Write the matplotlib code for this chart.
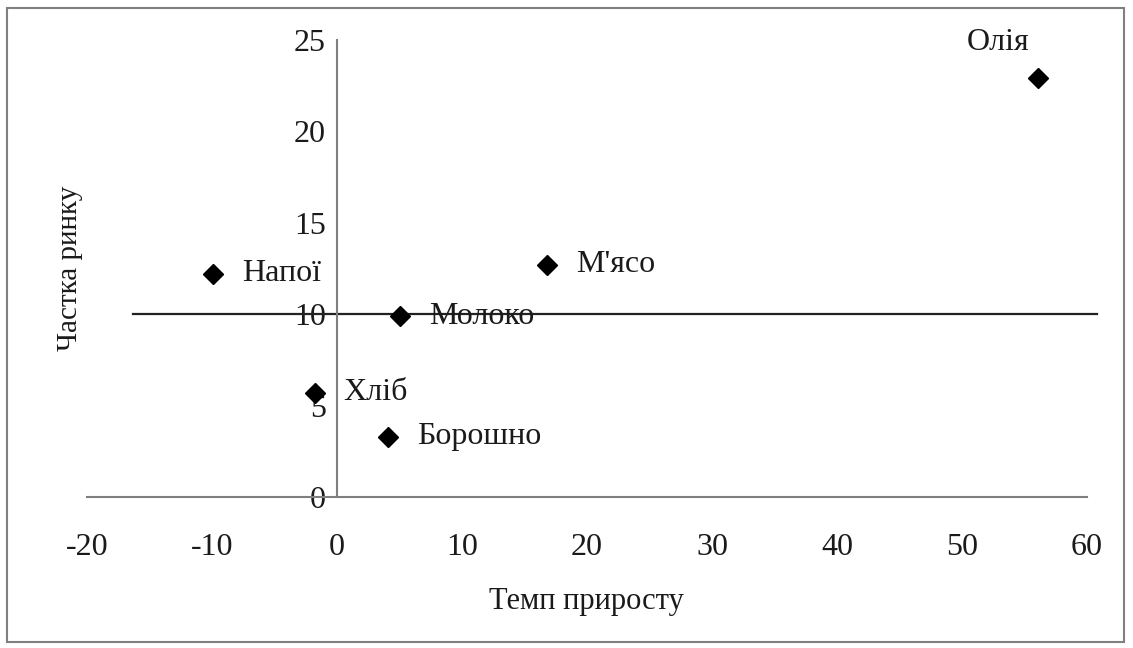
import matplotlib.pyplot as plt
from matplotlib.patches import Rectangle

# Data
products = ["Олія", "Напої", "М'ясо", "Молоко", "Хліб", "Борошно"]
growth = [56.1, -9.9, 16.8, 5.0, -1.8, 4.1]
share = [22.9, 12.2, 12.7, 9.9, 5.7, 3.3]

x_ticks = [-20, -10, 0, 10, 20, 30, 40, 50, 60]
y_ticks = [0, 5, 10, 15, 20, 25]

# horizontal divider line
div_x = [-16.3, 60.8]
div_y = [10, 10]

plt.rcParams['font.family'] = ['Liberation Serif', 'DejaVu Serif']
plt.rcParams['axes.unicode_minus'] = False

fig = plt.figure(figsize=(11.33, 6.48), dpi=100)
ax = fig.add_axes([87 / 1133, 1 - 497 / 648, 1000 / 1133, 457 / 648])

ax.set_xlim(-20, 60)
ax.set_ylim(0, 25)

for s in ["top", "right"]:
    ax.spines[s].set_visible(False)
ax.spines["left"].set_position(("data", 0))
ax.spines["bottom"].set_position(("data", 0))
for s in ["left", "bottom"]:
    ax.spines[s].set_color("#7f7f7f")
    ax.spines[s].set_linewidth(1.5)

ax.set_xticks(x_ticks)
ax.set_yticks(y_ticks)
ax.tick_params(axis="x", length=0, pad=26, labelsize=23, colors="#1a1a1a")
ax.tick_params(axis="y", length=0, pad=8, labelsize=23, colors="#1a1a1a")

ax.plot(div_x, div_y, color="#222222", lw=1.6, clip_on=False, zorder=2)

ax.plot(growth, share, linestyle="none", marker="D", ms=10,
        color="black", zorder=3)

offsets = {
    "Олія": (-29, 26, "center", "center"),
}
for name, gx, sy in zip(products, growth, share):
    dx, dy, ha, va = offsets.get(name, (21, 0, "left", "center"))
    ax.annotate(name, (gx, sy), xytext=(dx, dy), textcoords="offset points",
                ha=ha, va=va, fontsize=23, color="#1a1a1a")

fig.text(586 / 1133, 1 - 602 / 648, "Темп приросту", ha="center",
         va="center", fontsize=22, color="#1a1a1a")
fig.text(70 / 1133, 1 - 268 / 648, "Частка ринку", ha="center",
         va="center", rotation=90, fontsize=21, color="#1a1a1a")

# outer frame
fig.patches.append(Rectangle((7 / 1133, 1 - 642 / 648), 1117 / 1133, 634 / 648,
                             transform=fig.transFigure, fill=False,
                             edgecolor="#808080", lw=1.5))

fig.savefig("out.png", dpi=100)
